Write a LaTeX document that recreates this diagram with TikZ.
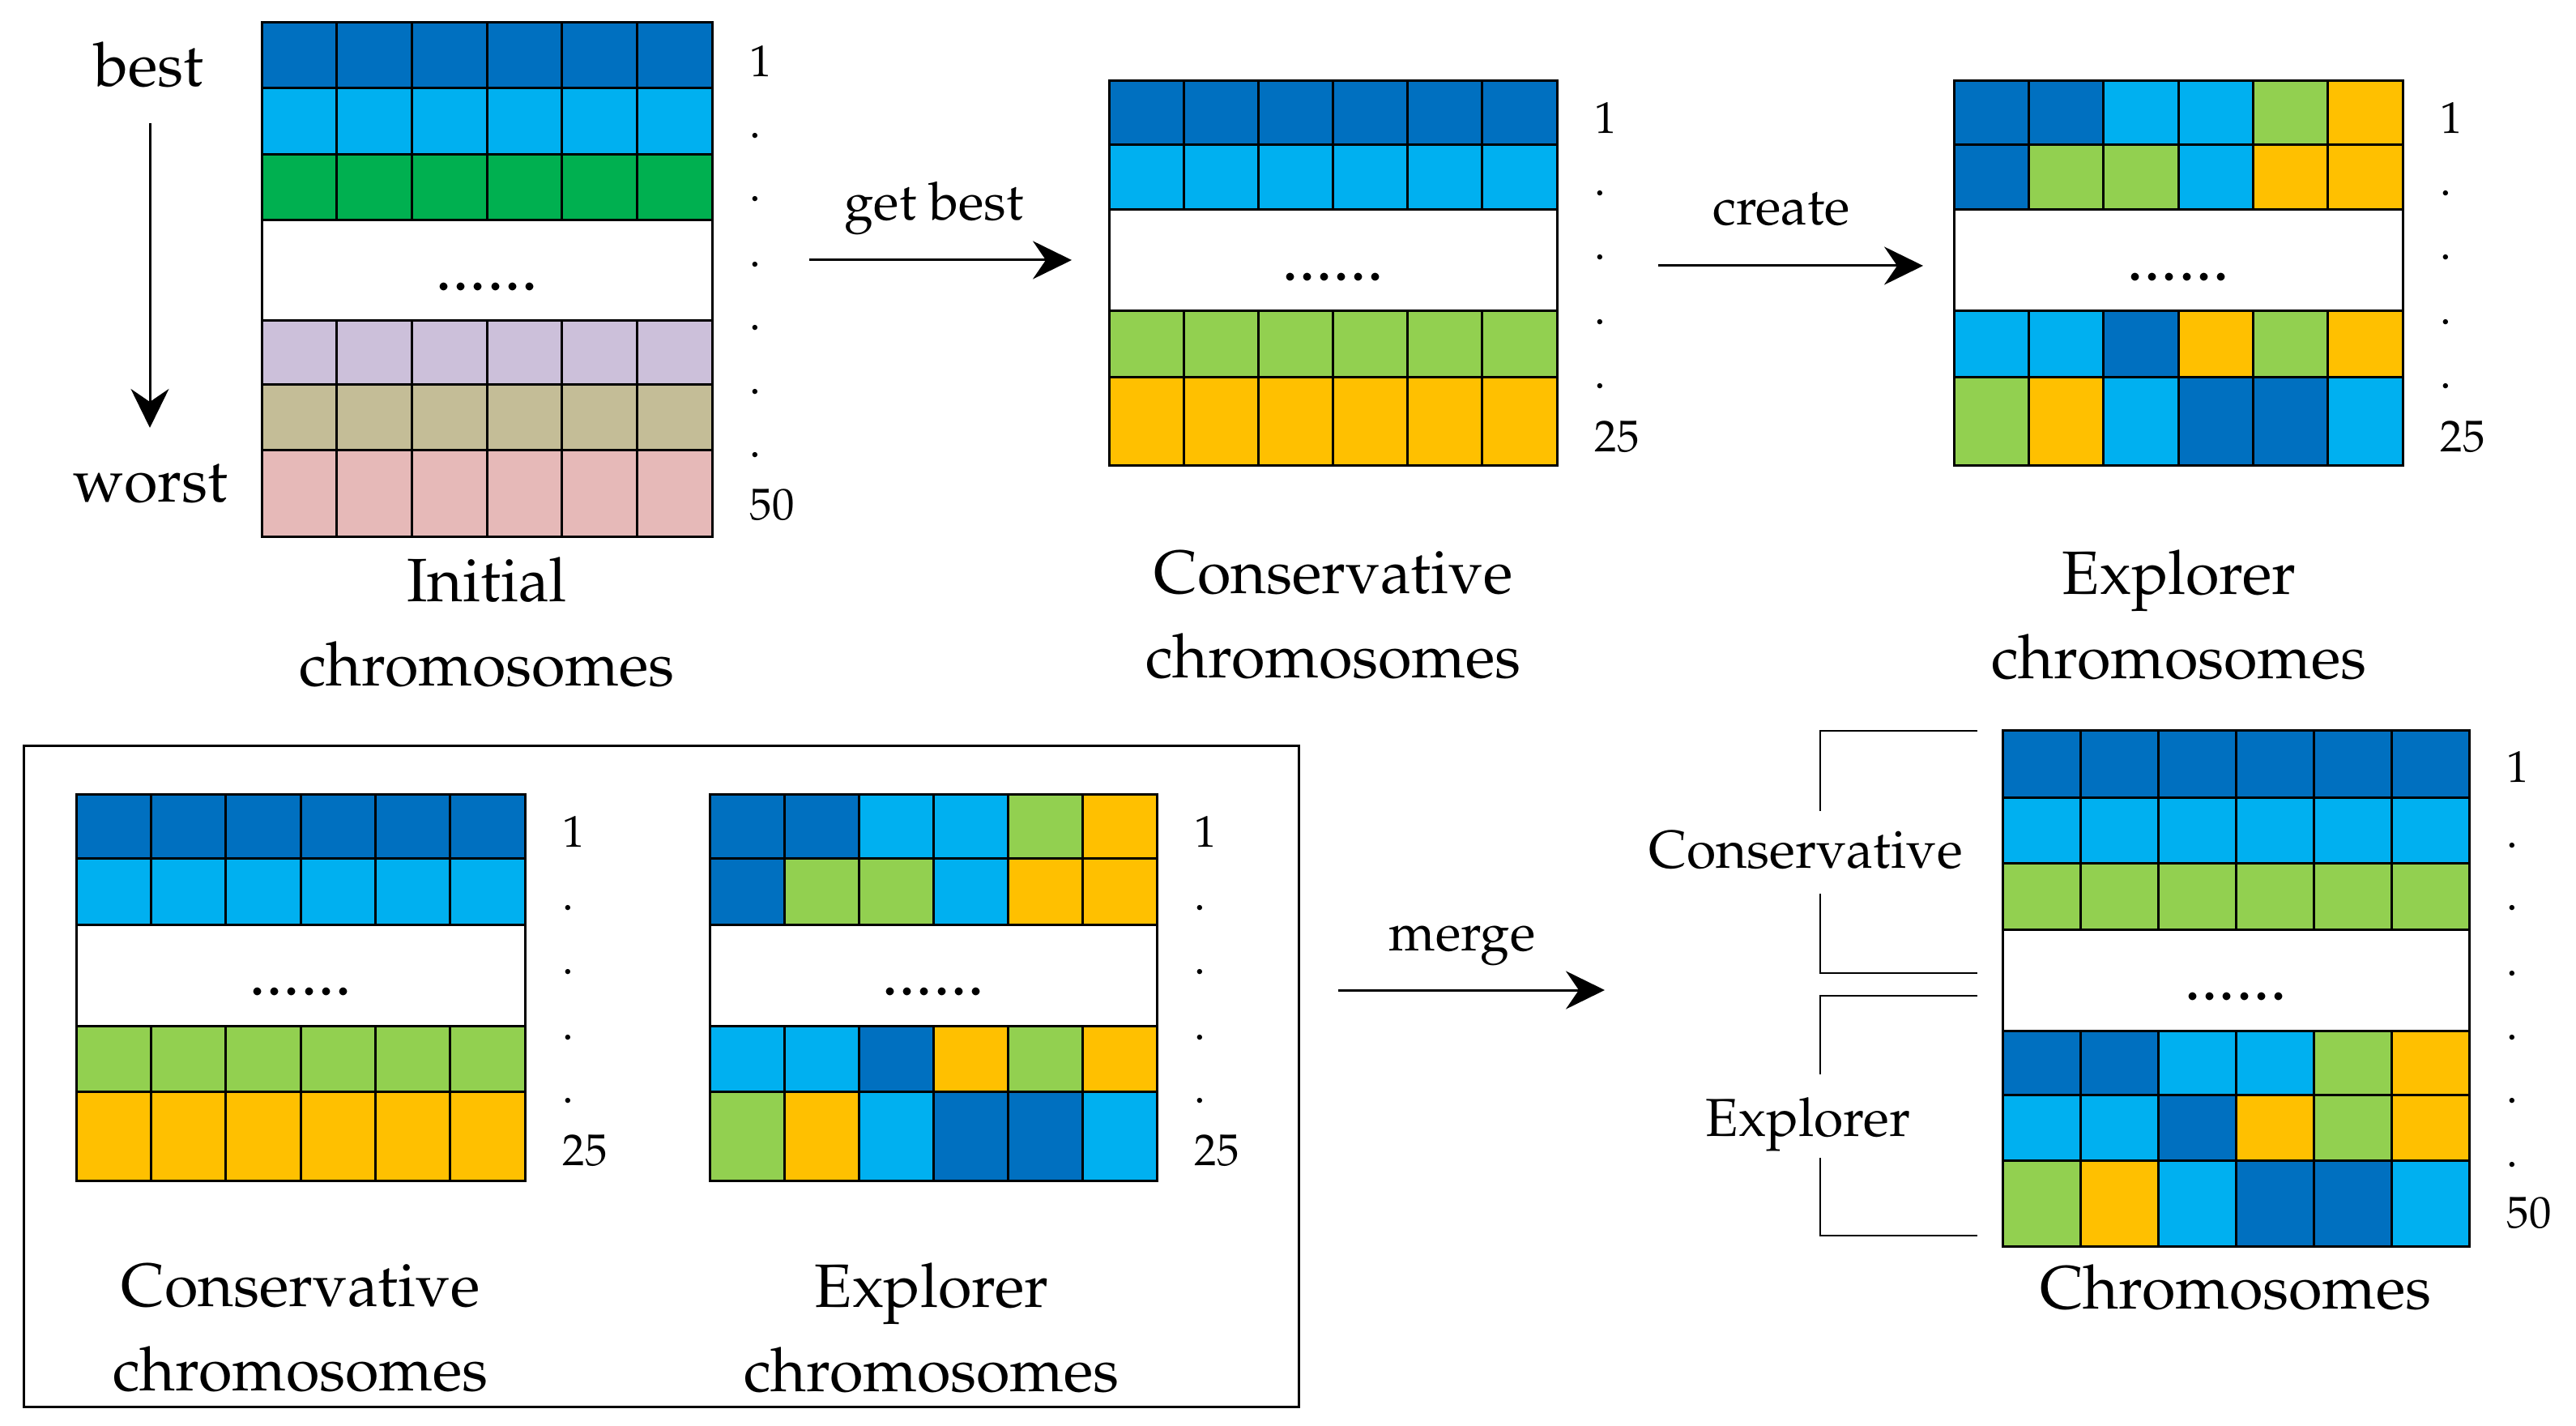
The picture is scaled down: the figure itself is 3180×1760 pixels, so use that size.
\documentclass[tikz,border=0pt]{standalone}
\usepackage[T1]{fontenc}
\usepackage{mathpazo}
\usetikzlibrary{arrows.meta}

\definecolor{darkblue}{HTML}{0070C0}
\definecolor{lightblue}{HTML}{00B0F0}
\definecolor{deepgreen}{HTML}{00B050}
\definecolor{lightgreen}{HTML}{92D050}
\definecolor{amber}{HTML}{FFC000}
\definecolor{lavender}{HTML}{CCC0DA}
\definecolor{khaki}{HTML}{C4BD97}
\definecolor{rose}{HTML}{E6B9B8}

\tikzset{
  cell/.style={draw=black, line width=0.3mm},
  flow/.style={line width=0.3mm, -{Stealth[length=4.8mm,width=4.7mm,inset=1.6mm]}},
  bracket/.style={line width=0.25mm},
  title/.style={font=\fontsize{21.5}{29.6}\selectfont, align=center, inner sep=0pt},
  part/.style={font=\fontsize{18.8}{22}\selectfont, anchor=base, inner sep=0pt},
  verb/.style={font=\fontsize{18.5}{22}\selectfont, anchor=base, inner sep=0pt},
  idx/.style={font=\fontsize{15.6}{18}\selectfont, anchor=west, inner sep=0pt},
  gapdots/.style={font=\fontsize{24}{26}\selectfont, inner sep=0pt},
}

% one chromosome: left, right, top, bottom, six gene colours
\newcommand{\generow}[5]{%
  \foreach \c [count=\i from 0] in {#5}
    \draw[cell, fill=\c] ({#1+(#2-#1)*\i/6},#3) rectangle ({#1+(#2-#1)*(\i+1)/6},#4);
}
% the skipped chromosomes: name, left, right, top, bottom
\newcommand{\generest}[5]{%
  \draw[cell, fill=white] (#2,#4) rectangle (#3,#5);
  \node[gapdots] (#1) at ({(#2+#3)/2},{(#4+#5)/2+20}) {......};
}
% ranks beside a population: name, x, y of 1, y of dots, y of last, last
\newcommand{\ranks}[6]{%
  \node[idx] (#1-first) at (#2,#3) {1};
  \foreach \y [count=\k] in {#4} \node[idx] (#1-dot\k) at (#2,\y) {.};
  \node[idx] (#1-last) at (#2,#5) {#6};
}

\begin{document}
\begin{tikzpicture}[x=0.1mm, y=-0.1mm]
  \useasboundingbox (0,0) rectangle (3180,1760);

  % initial population
  \node[title, anchor=base] (best) at (184,107) {best};
  \node[title, anchor=base] (worst) at (186,620) {worst};
  \coordinate (order-s) at (185,152);
  \coordinate (order-e) at (185,528);
  \draw[flow] (order-s) -- (order-e);

  \generow{323}{879}{28}{109}{darkblue,darkblue,darkblue,darkblue,darkblue,darkblue}
  \generow{323}{879}{109}{191}{lightblue,lightblue,lightblue,lightblue,lightblue,lightblue}
  \generow{323}{879}{191}{272}{deepgreen,deepgreen,deepgreen,deepgreen,deepgreen,deepgreen}
  \generest{init-gap}{323}{879}{272}{396}
  \generow{323}{879}{396}{475}{lavender,lavender,lavender,lavender,lavender,lavender}
  \generow{323}{879}{475}{556}{khaki,khaki,khaki,khaki,khaki,khaki}
  \generow{323}{879}{556}{663}{rose,rose,rose,rose,rose,rose}
  \ranks{init}{925}{76}{167,245,326,404,483,561}{623}{50}
  \node[title] (init-name) at (601,768) {Initial\\chromosomes};

  % get best
  \coordinate (best-s) at (999,321);
  \coordinate (best-e) at (1323,321);
  \draw[flow] (best-s) -- (best-e);
  \node[verb] (getbest) at (1153,272) {get best};

  % conservative chromosomes
  \generow{1369}{1922}{100}{179}{darkblue,darkblue,darkblue,darkblue,darkblue,darkblue}
  \generow{1369}{1922}{179}{259}{lightblue,lightblue,lightblue,lightblue,lightblue,lightblue}
  \generest{cons-gap}{1369}{1922}{259}{384}
  \generow{1369}{1922}{384}{466}{lightgreen,lightgreen,lightgreen,lightgreen,lightgreen,lightgreen}
  \generow{1369}{1922}{466}{575}{amber,amber,amber,amber,amber,amber}
  \ranks{cons}{1968}{146}{238,317,397,476}{539}{25}
  \node[title] (cons-name) at (1646,759) {Conservative\\chromosomes};

  % create
  \coordinate (create-s) at (2047,328);
  \coordinate (create-e) at (2374,328);
  \draw[flow] (create-s) -- (create-e);
  \node[verb] (create) at (2199,278) {create};

  % explorer chromosomes
  \generow{2412}{2966}{100}{179}{darkblue,darkblue,lightblue,lightblue,lightgreen,amber}
  \generow{2412}{2966}{179}{259}{darkblue,lightgreen,lightgreen,lightblue,amber,amber}
  \generest{expl-gap}{2412}{2966}{259}{384}
  \generow{2412}{2966}{384}{466}{lightblue,lightblue,darkblue,amber,lightgreen,amber}
  \generow{2412}{2966}{466}{575}{lightgreen,amber,lightblue,darkblue,darkblue,lightblue}
  \ranks{expl}{3012}{146}{238,317,397,476}{539}{25}
  \node[title] (expl-name) at (2690,759) {Explorer\\chromosomes};

  % both populations together
  \draw[line width=0.3mm] (29,921) rectangle (1603,1736);

  \generow{94}{648}{981}{1060}{darkblue,darkblue,darkblue,darkblue,darkblue,darkblue}
  \generow{94}{648}{1060}{1141}{lightblue,lightblue,lightblue,lightblue,lightblue,lightblue}
  \generest{cons2-gap}{94}{648}{1141}{1266}
  \generow{94}{648}{1266}{1347}{lightgreen,lightgreen,lightgreen,lightgreen,lightgreen,lightgreen}
  \generow{94}{648}{1347}{1457}{amber,amber,amber,amber,amber,amber}
  \ranks{cons2}{694}{1027}{1120,1199,1280,1358}{1420}{25}
  \node[title] (cons2-name) at (371,1639) {Conservative\\chromosomes};

  \generow{876}{1428}{981}{1060}{darkblue,darkblue,lightblue,lightblue,lightgreen,amber}
  \generow{876}{1428}{1060}{1141}{darkblue,lightgreen,lightgreen,lightblue,amber,amber}
  \generest{expl2-gap}{876}{1428}{1141}{1266}
  \generow{876}{1428}{1266}{1347}{lightblue,lightblue,darkblue,amber,lightgreen,amber}
  \generow{876}{1428}{1347}{1457}{lightgreen,amber,lightblue,darkblue,darkblue,lightblue}
  \ranks{expl2}{1474}{1027}{1120,1199,1280,1358}{1420}{25}
  \node[title] (expl2-name) at (1150,1639) {Explorer\\chromosomes};

  % merge
  \coordinate (merge-s) at (1652,1222);
  \coordinate (merge-e) at (1981,1222);
  \draw[flow] (merge-s) -- (merge-e);
  \node[verb] (merge) at (1805,1173) {merge};

  % merged population
  \generow{2472}{3048}{902}{985}{darkblue,darkblue,darkblue,darkblue,darkblue,darkblue}
  \generow{2472}{3048}{985}{1066}{lightblue,lightblue,lightblue,lightblue,lightblue,lightblue}
  \generow{2472}{3048}{1066}{1147}{lightgreen,lightgreen,lightgreen,lightgreen,lightgreen,lightgreen}
  \generest{all-gap}{2472}{3048}{1147}{1272}
  \generow{2472}{3048}{1272}{1351}{darkblue,darkblue,lightblue,lightblue,lightgreen,amber}
  \generow{2472}{3048}{1351}{1432}{lightblue,lightblue,darkblue,amber,lightgreen,amber}
  \generow{2472}{3048}{1432}{1538}{lightgreen,amber,lightblue,darkblue,darkblue,lightblue}
  \ranks{all}{3094}{947}{1043,1120,1201,1280,1358,1437}{1497}{50}
  \node[title, anchor=base] (all-name) at (2760,1615) {Chromosomes};

  % brackets
  \node[part] (cons-part) at (2229,1071) {Conservative};
  \node[part] (expl-part) at (2232,1402) {Explorer};
  \draw[bracket] (2441,902) -- (2247,902) -- (2247,1001);
  \draw[bracket] (2247,1103) -- (2247,1201) -- (2441,1201);
  \draw[bracket] (2441,1229) -- (2247,1229) -- (2247,1326);
  \draw[bracket] (2247,1429) -- (2247,1525) -- (2441,1525);
\end{tikzpicture}
\end{document}
